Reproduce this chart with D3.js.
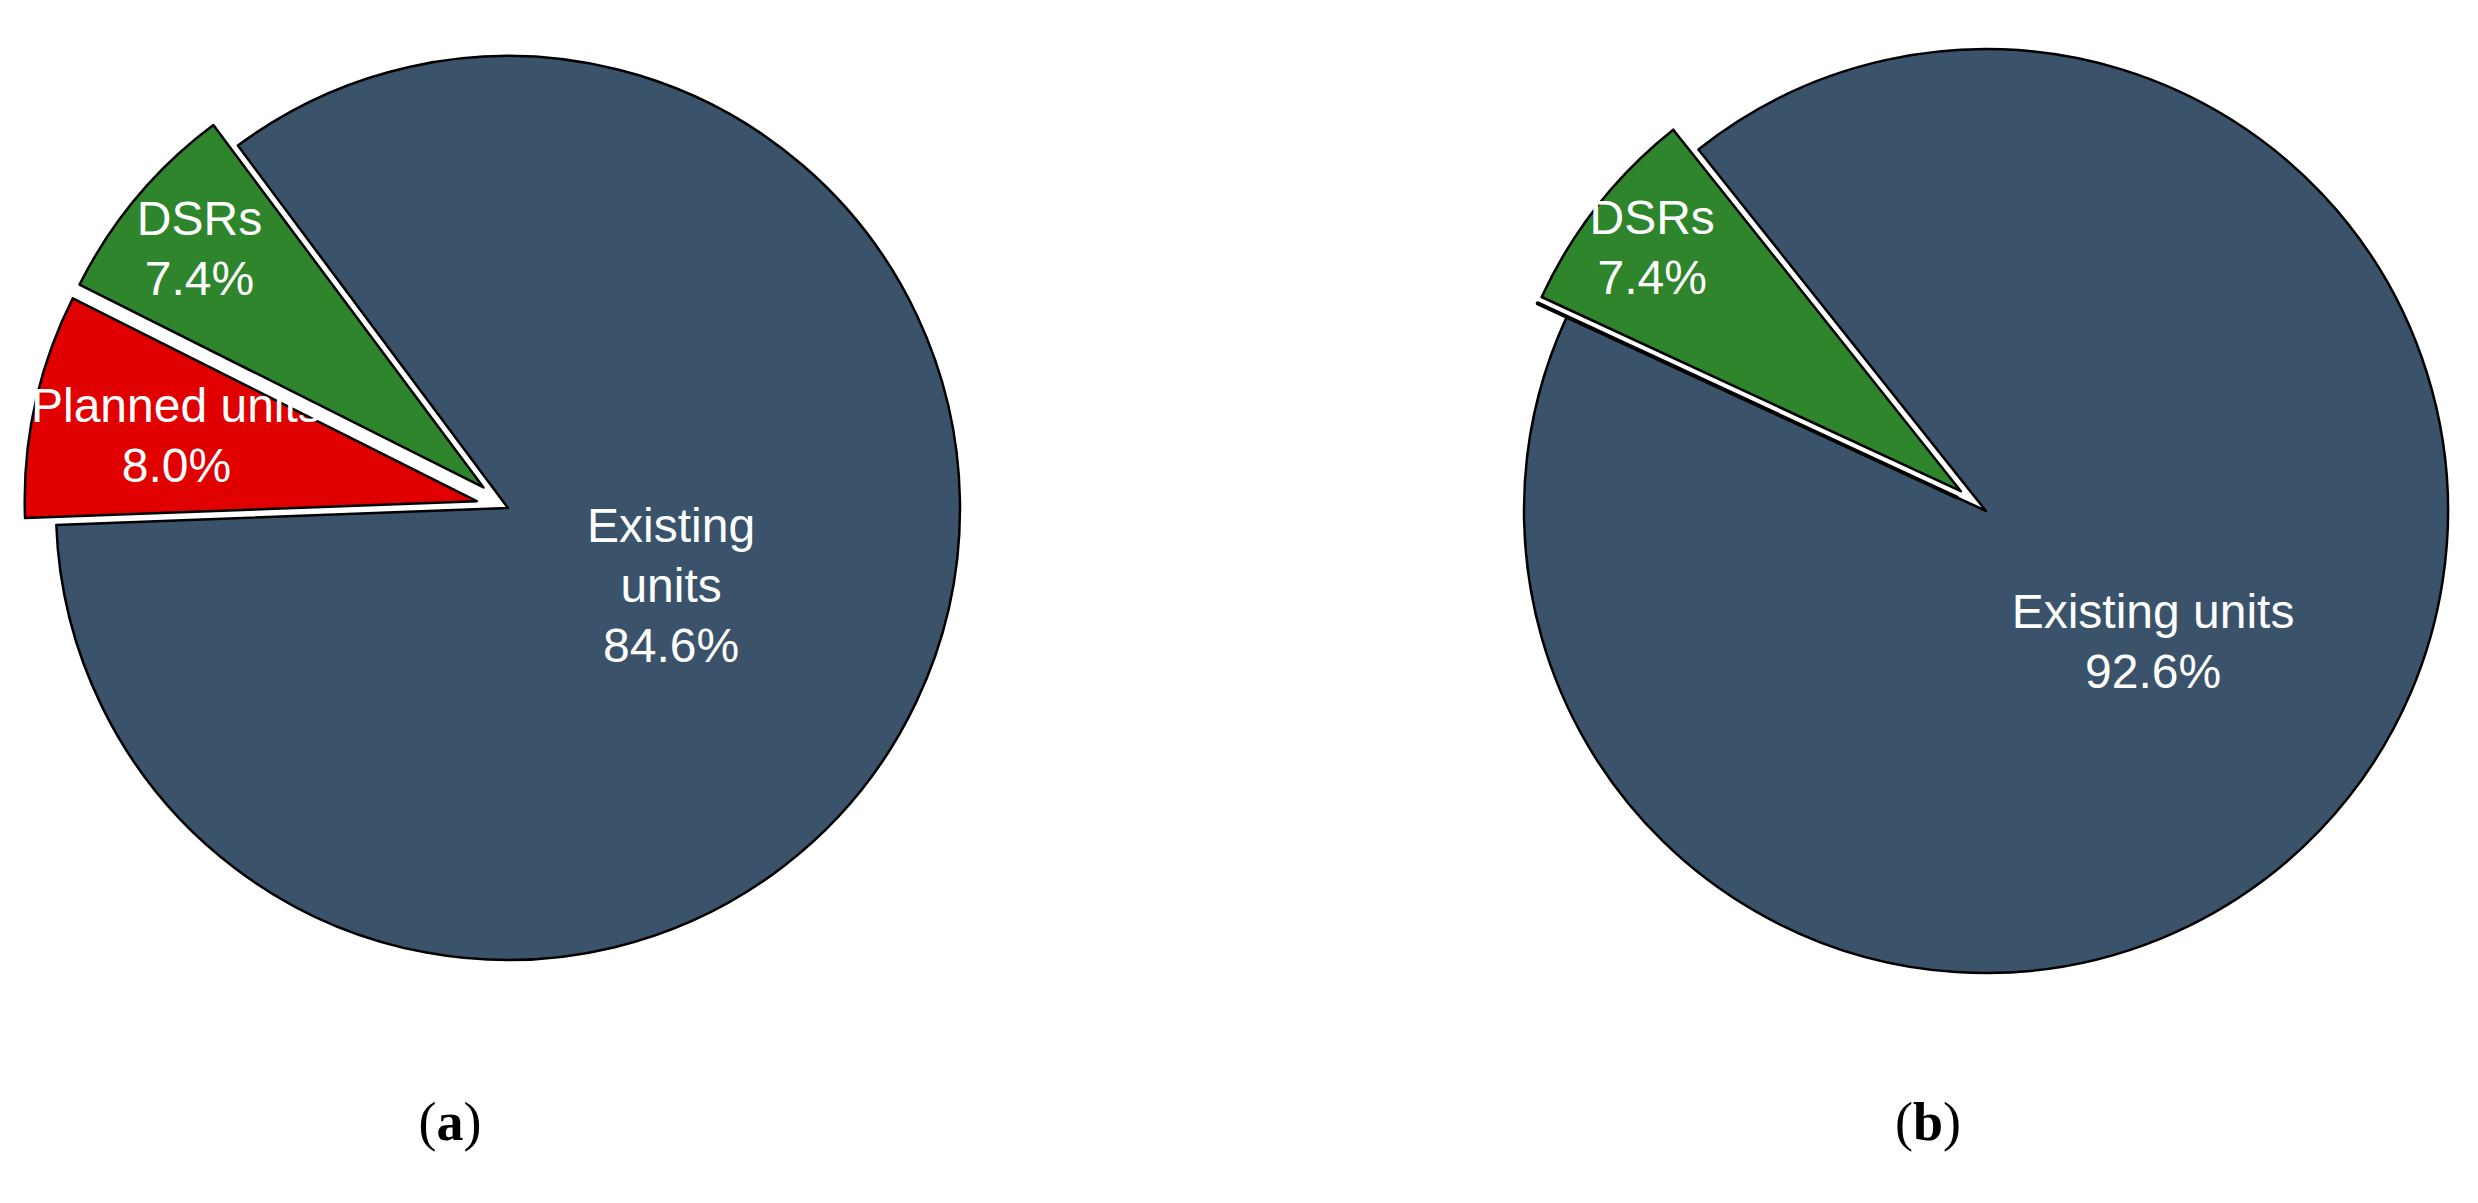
<!DOCTYPE html>
<html>
<head>
<meta charset="utf-8">
<script src="https://cdn.jsdelivr.net/npm/d3@7"></script>
<style>
  body { margin: 0; background: #fff; }
  svg { display: block; }
</style>
</head>
<body>
<svg id="chart" width="2478" height="1203"></svg>
<script>
// data
var categories = ["Existing units", "Planned units", "DSRs"];
var valuesA = [84.6, 8.0, 7.4];
var valuesB = [92.6, 0.0, 7.4];
var colors = ["#3a536b", "#e00000", "#2e852b"];

var svg = d3.select("#chart");

function drawPie(cx, cy, r, values, startDeg, caption, labelFrac, labelLines) {
  var g = svg.append("g").attr("transform", "translate(" + cx + "," + cy + ")");
  var total = d3.sum(values);
  var start = startDeg * Math.PI / 180;
  var pie = d3.pie().sort(null).value(d => d)
    .startAngle(start).endAngle(start + 2 * Math.PI);
  var arcs = pie(values);
  var arc = d3.arc().innerRadius(0).outerRadius(r);

  arcs.forEach((a, i) => {
    var mid = (a.startAngle + a.endAngle) / 2;
    var off = i == 0 ? 0 : 32;
    var dx = Math.sin(mid) * off, dy = -Math.cos(mid) * off;
    var sg = g.append("g").attr("transform", "translate(" + dx + "," + dy + ")");
    sg.append("path")
      .attr("d", arc(a))
      .attr("fill", colors[i])
      .attr("stroke", "#000")
      .attr("stroke-width", a.value == 0 ? 4 : 2.5)
      .attr("stroke-linejoin", "round");
    if (a.value == 0) return;
    var lr = r * labelFrac[i];
    var lx = Math.sin(mid) * lr + dx, ly = -Math.cos(mid) * lr + dy;
    var lines = labelLines[i].concat([d3.format(".1f")(a.value / total * 100) + "%"]);
    var t = sg.append("text")
      .attr("text-anchor", "middle")
      .attr("font-family", "Liberation Sans, Arial, sans-serif")
      .attr("font-size", 48)
      .attr("fill", "#fff");
    lines.forEach((s, k) => {
      t.append("tspan")
        .attr("x", lx - dx)
        .attr("y", ly - dy + (k - (lines.length - 1) / 2) * 60 + 16)
        .text(s);
    });
  });

  var cap = svg.append("text")
    .attr("x", cx - 58).attr("y", 1140)
    .attr("text-anchor", "middle")
    .attr("font-family", "Liberation Serif, Times New Roman, serif")
    .attr("font-size", 54)
    .attr("fill", "#000");
  cap.append("tspan").text("(");
  cap.append("tspan").attr("font-weight", "bold").text(caption);
  cap.append("tspan").text(")");
}

drawPie(508, 508, 452, valuesA, -36.7, "a", [0.4, 0.68, 0.82],
  [["Existing", "units"], ["Planned units"], ["DSRs"]]);
drawPie(1986, 511, 462, valuesB, -38.5, "b", [0.46, 0.7, 0.85],
  [["Existing units"], ["Planned units"], ["DSRs"]]);
</script>
</body>
</html>
